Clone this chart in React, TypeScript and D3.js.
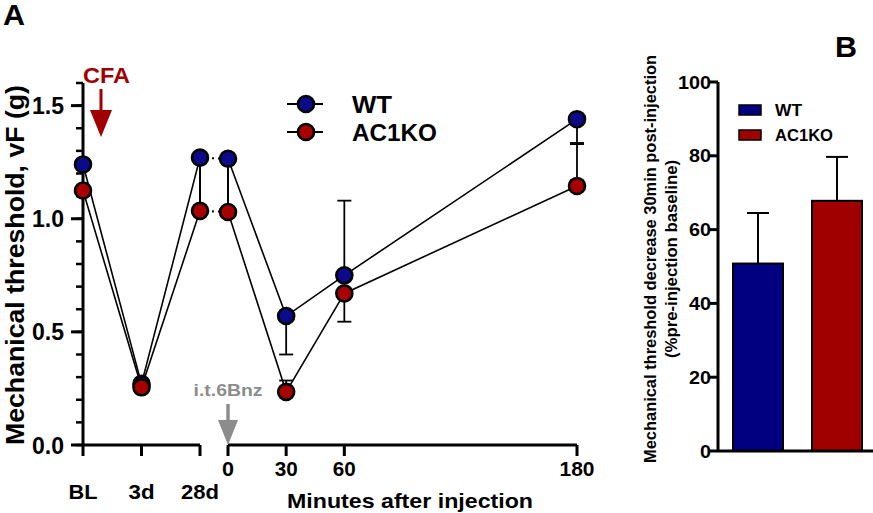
import React from "react";
import * as d3 from "d3";

const phaseLabels = ["BL", "3d", "28d"];
const minuteTicks = [0, 30, 60, 180];
const wtMean = [1.24, 0.27, 1.27, 1.265, 0.57, 0.75, 1.44];
const koMean = [1.125, 0.255, 1.035, 1.03, 0.235, 0.67, 1.145];
const wtErr = [0.11, 0.02, 0.23, 0.23, 0.17, 0.33, 0.11];
const wtErrDir = [-1, -1, -1, -1, -1, 1, -1];
const koErr = [0.1, 0.02, 0.23, 0.23, 0.05, 0.125, 0.19];
const koErrDir = [1, -1, 1, 1, 1, -1, 1];
const yTicksA = [0, 0.5, 1.0, 1.5];
const yMinorA = d3.range(0, 1.61, 0.1);

const barGroups = ["WT", "AC1KO"];
const barValues = [50.8, 67.8];
const barErr = [13.7, 11.9];
const yTicksB = [0, 20, 40, 60, 80, 100];

const FONT = "'Liberation Sans', Arial, sans-serif";
const BLUE = "#0a0a8a";
const RED = "#a80000";
const BAR_BLUE = "#000080";
const BAR_RED = "#a00000";

export default function App() {
  const yA = d3.scaleLinear().domain([0, 1.6]).range([445, 83]);
  const xPhase = d3.scalePoint<string>().domain(phaseLabels).range([83, 200]);
  const xMin = d3.scaleLinear().domain([0, 180]).range([228, 577]);
  const xs = [...phaseLabels.map((p) => xPhase(p) as number), ...minuteTicks.map((m) => xMin(m))];

  const seg = (vals: number[], idx: number[]) =>
    d3
      .line<number>()
      .x((i) => xs[i])
      .y((i) => yA(vals[i]))(idx) as string;

  const yB = d3.scaleLinear().domain([0, 100]).range([451, 82]);
  const xB = d3.scaleBand<string>().domain(barGroups).range([718, 877]).paddingInner(0.367).paddingOuter(0.19);

  const series = [
    { mean: wtMean, err: wtErr, dir: wtErrDir, fill: BLUE },
    { mean: koMean, err: koErr, dir: koErrDir, fill: RED },
  ];

  return (
    <svg width={873} height={513} style={{ position: "absolute", left: 0, top: 0, background: "#fff" }} fontFamily={FONT} fontWeight="bold">
      {/* Panel labels */}
      <text x={3} y={25} fontSize={29} textLength={22} lengthAdjust="spacingAndGlyphs">A</text>
      <text x={835} y={57} fontSize={29} textLength={22} lengthAdjust="spacingAndGlyphs">B</text>

      {/* Panel A axes */}
      <line x1={83} x2={83} y1={yA(1.6)} y2={yA(0)} stroke="#000" strokeWidth={3} />
      {yMinorA.map((t, i) => (
        <line key={"mn" + i} x1={76} x2={83} y1={yA(t)} y2={yA(t)} stroke="#000" strokeWidth={2.5} />
      ))}
      {yTicksA.map((t) => (
        <g key={"ya" + t}>
          <line x1={71} x2={83} y1={yA(t)} y2={yA(t)} stroke="#000" strokeWidth={3} />
          <text x={64} y={yA(t) + 8.5} fontSize={23} textAnchor="end" textLength={32} lengthAdjust="spacingAndGlyphs">
            {t.toFixed(1)}
          </text>
        </g>
      ))}
      <text transform={`translate(24,265) rotate(-90)`} fontSize={26} textAnchor="middle" textLength={360} lengthAdjust="spacingAndGlyphs">
        Mechanical threshold, vF (g)
      </text>

      <line x1={83} x2={xPhase("28d") as number} y1={445} y2={445} stroke="#000" strokeWidth={3} />
      {phaseLabels.map((p, i) => (
        <g key={p}>
          <line x1={xPhase(p) as number} x2={xPhase(p) as number} y1={445} y2={456} stroke="#000" strokeWidth={3} />
          <text x={xPhase(p) as number} y={499} fontSize={20} textAnchor="middle" textLength={[29, 26, 38][i]} lengthAdjust="spacingAndGlyphs">
            {p}
          </text>
        </g>
      ))}
      <line x1={xMin(0)} x2={xMin(180)} y1={445} y2={445} stroke="#000" strokeWidth={3} />
      {minuteTicks.map((m, i) => (
        <g key={"m" + m}>
          <line x1={xMin(m)} x2={xMin(m)} y1={445} y2={456} stroke="#000" strokeWidth={3} />
          <text x={xMin(m)} y={476} fontSize={20} textAnchor="middle" textLength={[12, 23, 23, 35][i]} lengthAdjust="spacingAndGlyphs">
            {m}
          </text>
        </g>
      ))}
      <text x={410} y={508} fontSize={21} textAnchor="middle" textLength={246} lengthAdjust="spacingAndGlyphs">
        Minutes after injection
      </text>

      {/* Annotations */}
      <text x={83} y={83} fontSize={22} fill={BAR_RED} textLength={47} lengthAdjust="spacingAndGlyphs">CFA</text>
      <line x1={101} x2={101} y1={89} y2={112} stroke={BAR_RED} strokeWidth={3} />
      <path d="M90,110 L112,110 L101,137 Z" fill={BAR_RED} />
      <text x={228} y={396} fontSize={17} fill="#8c8c8c" textAnchor="middle" textLength={69} lengthAdjust="spacingAndGlyphs">i.t.6Bnz</text>
      <line x1={228} x2={228} y1={404} y2={422} stroke="#8c8c8c" strokeWidth={3.5} />
      <path d="M218,420 L238,420 L228,445 Z" fill="#8c8c8c" />

      {/* Lines */}
      {series.map((s, k) => (
        <g key={"ln" + k} fill="none" stroke="#000">
          <path d={seg(s.mean, [0, 1, 2])} strokeWidth={1.6} />
          <path d={seg(s.mean, [3, 4, 5, 6])} strokeWidth={1.6} />
          <path d={seg(s.mean, [2, 3])} strokeWidth={2} strokeDasharray="2 4" />
        </g>
      ))}
      {/* Error bars */}
      {series.map((s, k) => (
        <g key={"eb" + k} stroke="#000" strokeWidth={1.8}>
          {s.mean.map((v, i) => {
            const end = v + s.dir[i] * s.err[i];
            return (
              <g key={i}>
                <line x1={xs[i]} x2={xs[i]} y1={yA(v)} y2={yA(end)} />
                <line x1={xs[i] - 7} x2={xs[i] + 7} y1={yA(end)} y2={yA(end)} />
              </g>
            );
          })}
        </g>
      ))}
      {/* Markers */}
      {series.map((s, k) => (
        <g key={"mk" + k}>
          {s.mean.map((v, i) => (
            <circle key={i} cx={xs[i]} cy={yA(v)} r={8} fill={s.fill} stroke="#000" strokeWidth={2.6} />
          ))}
        </g>
      ))}

      {/* Legend A */}
      {[
        { label: "WT", fill: BLUE, y: 104, w: 40 },
        { label: "AC1KO", fill: RED, y: 132, w: 85 },
      ].map((l) => (
        <g key={l.label}>
          <line x1={287} x2={323} y1={l.y} y2={l.y} stroke="#000" strokeWidth={1.8} />
          <circle cx={306} cy={l.y} r={8} fill={l.fill} stroke="#000" strokeWidth={2.6} />
          <text x={352} y={l.y + 8.5} fontSize={24} textLength={l.w} lengthAdjust="spacingAndGlyphs">
            {l.label}
          </text>
        </g>
      ))}

      {/* Panel B */}
      <text transform={`translate(656,259) rotate(-90)`} fontSize={16} textAnchor="middle" textLength={408} lengthAdjust="spacingAndGlyphs">
        Mechanical threshold decrease 30min post-injection
      </text>
      <text transform={`translate(677,259) rotate(-90)`} fontSize={16} textAnchor="middle" textLength={198} lengthAdjust="spacingAndGlyphs">
        (%pre-injection baseline)
      </text>
      {barGroups.map((g, i) => {
        const x0 = xB(g) as number;
        const w = xB.bandwidth();
        const cx = x0 + w / 2;
        return (
          <g key={g}>
            <line x1={cx} x2={cx} y1={yB(barValues[i])} y2={yB(barValues[i] + barErr[i])} stroke="#000" strokeWidth={2} />
            <line x1={cx - 11} x2={cx + 11} y1={yB(barValues[i] + barErr[i])} y2={yB(barValues[i] + barErr[i])} stroke="#000" strokeWidth={2} />
            <rect x={x0} y={yB(barValues[i])} width={w} height={yB(0) - yB(barValues[i])} fill={i === 0 ? BAR_BLUE : BAR_RED} stroke="#000" strokeWidth={2} />
          </g>
        );
      })}
      <line x1={718} x2={718} y1={yB(100)} y2={yB(0)} stroke="#000" strokeWidth={3} />
      <line x1={718} x2={873} y1={yB(0)} y2={yB(0)} stroke="#000" strokeWidth={3} />
      {yTicksB.map((t) => (
        <g key={"yb" + t}>
          <line x1={710} x2={718} y1={yB(t)} y2={yB(t)} stroke="#000" strokeWidth={3} />
          <text x={711} y={yB(t) + 6.5} fontSize={18} textAnchor="end" textLength={t === 100 ? 33 : t === 0 ? 11 : 22} lengthAdjust="spacingAndGlyphs">
            {t}
          </text>
        </g>
      ))}
      {barGroups.map((g, i) => (
        <g key={"lg" + g}>
          <rect x={739} y={105 + i * 25} width={22} height={10} fill={i === 0 ? BAR_BLUE : BAR_RED} stroke="#000" strokeWidth={1.5} />
          <text x={775} y={116 + i * 25} fontSize={16} textLength={i === 0 ? 27 : 58} lengthAdjust="spacingAndGlyphs">
            {g}
          </text>
        </g>
      ))}
    </svg>
  );
}
